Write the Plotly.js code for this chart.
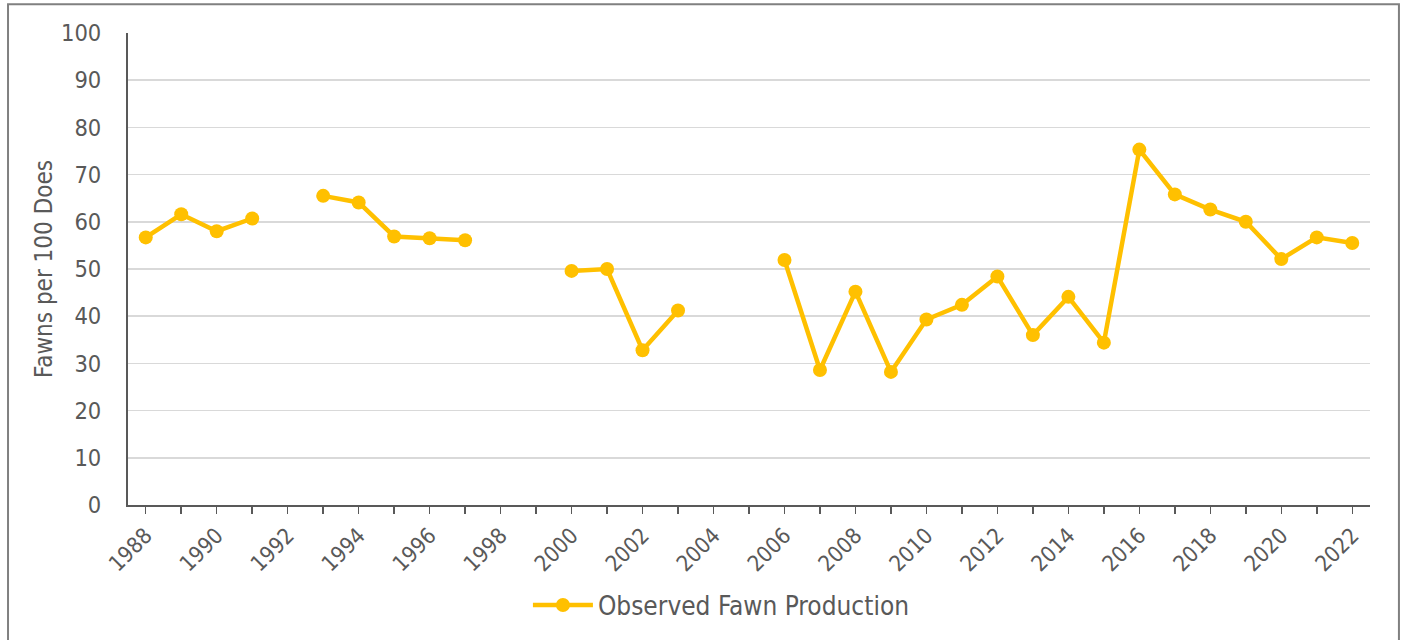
<!DOCTYPE html>
<html>
<head>
<meta charset="utf-8">
<script src="https://cdn.plot.ly/plotly-3.0.1.min.js"></script>
<style>
html,body{margin:0;padding:0;background:#fff;}
#chart{width:1406px;height:640px;}
</style>
</head>
<body>
<div id="chart"></div>
<script>
const years = [1988,1989,1990,1991,1992,1993,1994,1995,1996,1997,1998,1999,2000,2001,2002,2003,2004,2005,2006,2007,2008,2009,2010,2011,2012,2013,2014,2015,2016,2017,2018,2019,2020,2021,2022];
const fawnsPer100Does = [56.7,61.6,58.0,60.7,null,65.5,64.1,56.9,56.5,56.1,null,null,49.6,50.0,32.8,41.2,null,null,51.9,28.6,45.2,28.2,39.3,42.4,48.4,36.0,44.1,34.4,75.3,65.8,62.6,60.0,52.1,56.7,55.5];
const tickYears = [1988,1990,1992,1994,1996,1998,2000,2002,2004,2006,2008,2010,2012,2014,2016,2018,2020,2022];
const seriesName = "Observed Fawn Production";
const yTitle = "Fawns per 100 Does";

const font = "DejaVu Sans Condensed, DejaVu Sans, sans-serif";
const txt = "#595959";

Plotly.newPlot("chart", [{
  x: years,
  y: fawnsPer100Does,
  type: "scatter",
  mode: "lines+markers",
  name: seriesName,
  connectgaps: false,
  line: {color: "#FFC000", width: 4.5},
  marker: {color: "#FFC000", size: 14}
}], {
  width: 1406, height: 640,
  margin: {l: 128, r: 36, t: 33, b: 129},
  paper_bgcolor: "#fff", plot_bgcolor: "#fff",
  font: {family: font, color: txt, size: 22},
  showlegend: true,
  legend: {orientation: "h", x: 0.322, xanchor: "left", y: -0.212, yanchor: "middle",
           itemwidth: 60, font: {family: font, size: 26, color: txt}},
  xaxis: {
    range: [1987.5, 2022.5], automargin: false,
    tickmode: "array", tickvals: tickYears, ticktext: tickYears.map(String),
    tickangle: -45, ticks: "outside", ticklen: 7, tickcolor: "#595959", tickwidth: 1.5,
    minor: {tickmode: "linear", tick0: 1988, dtick: 1, ticks: "outside", ticklen: 7, tickcolor: "#595959", tickwidth: 1.5, showgrid: false},
    showline: true, linecolor: "#595959", linewidth: 2,
    showgrid: false, zeroline: false,
    tickfont: {family: font, size: 22, color: txt}
  },
  yaxis: {
    range: [0, 100], dtick: 10, tick0: 0, automargin: false,
    showline: true, linecolor: "#595959", linewidth: 2,
    gridcolor: "#d9d9d9", gridwidth: 1.5, zeroline: false,
    ticks: "", ticklabelstandoff: 20,
    tickfont: {family: font, size: 23.5, color: txt},
    title: {text: yTitle, font: {family: font, size: 24, color: txt}, standoff: 2}
  },
  shapes: [{
    type: "rect", xref: "paper", yref: "paper",
    x0: -0.0966, x1: 1.0233, y0: -0.3, y1: 1.061,
    line: {color: "#808080", width: 2}, fillcolor: "rgba(0,0,0,0)", layer: "below"
  }]
}, {displayModeBar: false, staticPlot: true});
</script>
</body>
</html>
